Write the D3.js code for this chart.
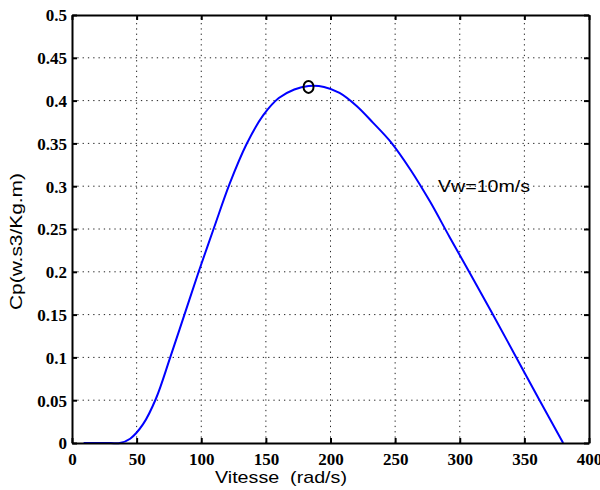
<!DOCTYPE html>
<html>
<head>
<meta charset="utf-8">
<script src="https://cdn.jsdelivr.net/npm/d3@7"></script>
<style>
  html, body { margin: 0; padding: 0; background: #fff; }
  svg { display: block; }
</style>
</head>
<body>
<svg id="chart" width="600" height="490"></svg>
<script>
// Power coefficient vs rotor speed at Vw = 10 m/s
const speed = [9, 20, 30, 37, 45, 55, 65, 76, 87, 98, 110, 122, 135, 148, 160, 172, 183, 195, 207, 220, 233, 247, 262, 277, 292, 308, 325, 343, 361, 380];
const cp    = [0, 0, 0, 0, 0.005, 0.022, 0.052, 0.1, 0.15, 0.2, 0.252, 0.303, 0.349, 0.383, 0.403, 0.413, 0.417, 0.416, 0.409, 0.394, 0.374, 0.351, 0.319, 0.282, 0.241, 0.198, 0.152, 0.102, 0.052, 0];

// Optimum operating point
const optSpeed = [183];
const optCp = [0.416];

const xTicks = [0, 50, 100, 150, 200, 250, 300, 350, 400];
const yTicks = [0, 0.05, 0.1, 0.15, 0.2, 0.25, 0.3, 0.35, 0.4, 0.45, 0.5];
const yTickLabels = ["0", "0.05", "0.1", "0.15", "0.2", "0.25", "0.3", "0.35", "0.4", "0.45", "0.5"];

const svg = d3.select("#chart");
const plotL = 72, plotR = 589, plotT = 15, plotB = 443;

const x = d3.scaleLinear().domain([0, 400]).range([plotL, plotR]);
const y = d3.scaleLinear().domain([0, 0.5]).range([plotB, plotT]);

// dotted grid
const grid = svg.append("g").attr("stroke", "#222").attr("stroke-width", 1)
  .attr("stroke-dasharray", "1.3,4");
xTicks.slice(1, -1).forEach(t => {
  grid.append("line").attr("x1", x(t)).attr("x2", x(t)).attr("y1", plotB).attr("y2", plotT);
});
yTicks.slice(1, -1).forEach(t => {
  grid.append("line").attr("x1", plotL).attr("x2", plotR).attr("y1", y(t)).attr("y2", y(t));
});

// curve
const line = d3.line().x((d, i) => x(speed[i])).y((d, i) => Math.min(y(cp[i]), plotB))
  .curve(d3.curveCatmullRom.alpha(0.5));
svg.append("path").datum(cp).attr("d", line)
  .attr("fill", "none").attr("stroke", "#0000ff").attr("stroke-width", 2);

// marker at optimum
svg.selectAll("ellipse.opt").data(optSpeed).enter().append("ellipse")
  .attr("class", "opt")
  .attr("cx", (d) => x(d)).attr("cy", (d, i) => y(optCp[i]))
  .attr("rx", 5).attr("ry", 6)
  .attr("fill", "none").attr("stroke", "#000").attr("stroke-width", 2);

// axes (ticks inward, box on)
const tickFont = "bold 17px 'Liberation Serif', 'Times New Roman', serif";
const xAxis = d3.axisBottom(x).tickValues(xTicks).tickSizeInner(-5).tickSizeOuter(0).tickPadding(10)
  .tickFormat(d3.format("d"));
const gx = svg.append("g").attr("transform", `translate(0,${plotB})`).call(xAxis);
gx.selectAll("text").style("font", tickFont).attr("fill", "#000");

const yAxis = d3.axisLeft(y).tickValues(yTicks).tickSizeInner(-5).tickSizeOuter(0).tickPadding(5)
  .tickFormat((d, i) => yTickLabels[i]);
const gy = svg.append("g").attr("transform", `translate(${plotL},0)`).call(yAxis);
gy.selectAll("text").style("font", tickFont).attr("fill", "#000").attr("dy", "0.35em");

const gTop = svg.append("g").attr("transform", `translate(0,${plotT})`)
  .call(d3.axisTop(x).tickValues(xTicks).tickSizeInner(-5).tickSizeOuter(0).tickFormat(""));
const gRight = svg.append("g").attr("transform", `translate(${plotR},0)`)
  .call(d3.axisRight(y).tickValues(yTicks).tickSizeInner(-5).tickSizeOuter(0).tickFormat(""));

[gx, gy, gTop, gRight].forEach(g => {
  g.selectAll("path.domain").attr("stroke", "#000").attr("stroke-width", 2);
  g.selectAll(".tick line").attr("stroke", "#000").attr("stroke-width", 2);
});

// labels
const labelFont = "17px 'Liberation Sans', Arial, sans-serif";
svg.append("text").attr("x", 281).attr("y", 483).attr("text-anchor", "middle")
  .style("font", labelFont).attr("fill", "#000").attr("xml:space", "preserve")
  .attr("textLength", 132).attr("lengthAdjust", "spacingAndGlyphs")
  .text("Vitesse  (rad/s)");

svg.append("text").attr("transform", "translate(22,241.5) rotate(-90)").attr("text-anchor", "middle")
  .style("font", labelFont).attr("fill", "#000")
  .attr("textLength", 137).attr("lengthAdjust", "spacingAndGlyphs")
  .text("Cp(w.s3/Kg.m)");

svg.append("text").attr("x", 438).attr("y", 192)
  .style("font", labelFont).attr("fill", "#000")
  .attr("textLength", 92).attr("lengthAdjust", "spacingAndGlyphs")
  .text("Vw=10m/s");
</script>
</body>
</html>
